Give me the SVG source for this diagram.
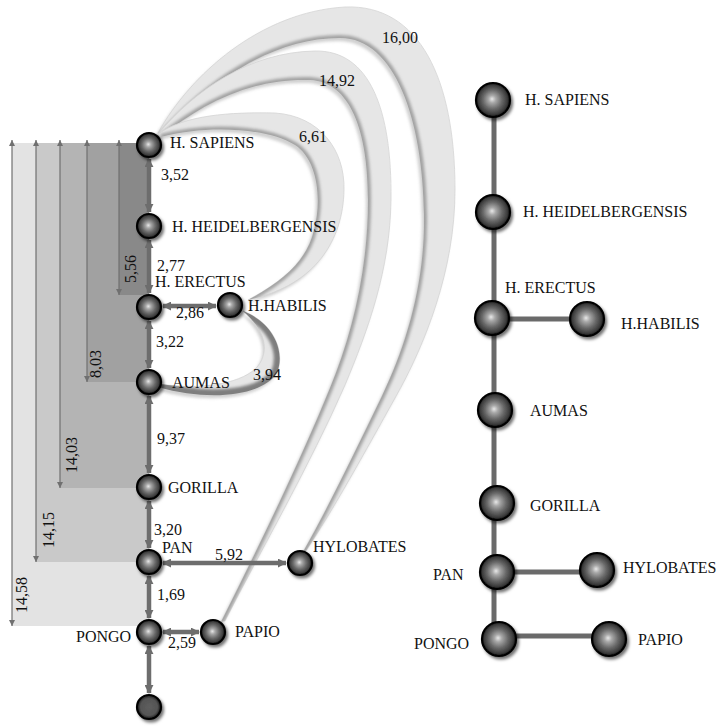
<svg xmlns="http://www.w3.org/2000/svg" width="718" height="727" viewBox="0 0 718 727">
  <style>
    text { font-family: "Liberation Serif", "Times New Roman", serif; font-size: 16px; fill: #111; }
    .band { stroke: none; }
    .dim { stroke: #707070; stroke-width: 1.2; fill: none; marker-start: url(#tick); marker-end: url(#tick); }
    .link { stroke: #6d6d6d; stroke-width: 4.5; fill: none; marker-start: url(#head); marker-end: url(#head); }
    .branch { stroke: #6a6a6a; stroke-width: 5; fill: none; }
    .ball { fill: url(#ballFill); stroke: #050505; stroke-width: 2.2; filter: url(#drop); }
    .ball-dark { fill: url(#ballDark); stroke: #050505; stroke-width: 2.2; filter: url(#drop); }
    .ribbon { fill: #e6e6e6; stroke: #d4d4d4; stroke-width: 0.8; filter: url(#soft); }
    .ribbon-shade { fill: #a0a0a0; opacity: 0.5; filter: url(#blur2); }
    .crease { fill: none; stroke: #a2a2a2; stroke-width: 6; filter: url(#blur2); }
    .crease-dark { fill: none; stroke: #7e7e7e; stroke-width: 12; filter: url(#blur2); }
  </style>
  <defs>
    <radialGradient id="ballFill" cx="0.5" cy="0.5" r="0.5" fx="0.47" fy="0.47">
      <stop offset="0" stop-color="#e8e8e8"/>
      <stop offset="0.22" stop-color="#a8a8a8"/>
      <stop offset="0.55" stop-color="#6a6a6a"/>
      <stop offset="0.85" stop-color="#3c3c3c"/>
      <stop offset="1" stop-color="#151515"/>
    </radialGradient>
    <radialGradient id="ballDark" cx="0.5" cy="0.5" r="0.5">
      <stop offset="0" stop-color="#5e5e5e"/>
      <stop offset="0.7" stop-color="#555"/>
      <stop offset="0.9" stop-color="#2e2e2e"/>
      <stop offset="1" stop-color="#0a0a0a"/>
    </radialGradient>
    <filter id="drop" x="-50%" y="-50%" width="200%" height="200%">
      <feDropShadow dx="2" dy="2.5" stdDeviation="1.8" flood-color="#000" flood-opacity="0.55"/>
    </filter>
    <filter id="soft" x="-10%" y="-10%" width="120%" height="120%">
      <feGaussianBlur stdDeviation="0.6"/>
    </filter>
    <filter id="blur2" x="-10%" y="-10%" width="120%" height="120%">
      <feGaussianBlur stdDeviation="1.6"/>
    </filter>
    <marker id="head" viewBox="0 0 10 10" refX="9" refY="5" markerWidth="2" markerHeight="2" orient="auto-start-reverse">
      <path d="M0,0 L10,5 L0,10 z" fill="#6d6d6d"/>
    </marker>
    <marker id="tick" viewBox="0 0 10 10" refX="10" refY="5" markerUnits="userSpaceOnUse" markerWidth="6" markerHeight="6" orient="auto-start-reverse">
      <path d="M0,0 L10,5 L0,10 z" fill="#707070"/>
    </marker>
    <!-- distance ribbons: outer edge out, inner edge back -->
    <path id="r1600" d="M158,133 C190,75 260,12 345,7 C420,4 455,80 455,190 C455,270 425,345 395,398 C365,452 333,510 306,551 L303,552 C328,508 355,452 382,396 C408,342 425,280 424,215 C423,120 395,38 340,38 C270,38 205,85 161,136 Z"/>
    <path id="r1492" d="M158,134 C195,90 250,52 315,51 C370,50 392,110 391,200 C390,270 368,330 345,385 C310,465 262,548 225,621 L221,622 C258,548 300,462 330,388 C352,335 368,270 368,200 C368,130 350,82 310,80 C250,78 200,105 161,137 Z"/>
    <path id="r661" d="M158,134 C185,115 230,112 275,113 C320,116 345,150 344,190 C343,240 316,284 252,299 L248,300 C285,280 307,260 314,230 C322,200 318,160 295,145 C265,127 205,125 161,137 Z"/>
    <path id="r394" d="M243,311 C272,322 286,350 277,373 C262,396 210,402 158,387 L160,384 C205,391 245,382 258,366 C270,350 265,330 243,311 Z"/>
    <clipPath id="c1600"><use href="#r1600"/></clipPath>
    <clipPath id="c1492"><use href="#r1492"/></clipPath>
    <clipPath id="c661"><use href="#r661"/></clipPath>
    <clipPath id="c394"><use href="#r394"/></clipPath>
  </defs>

  <rect width="718" height="727" fill="#fff"/>

  <!-- cumulative distance bands -->
  <g id="bands">
    <rect class="band" x="12" y="143" width="137" height="483" fill="#e3e3e3"/>
    <rect class="band" x="36" y="143" width="113" height="419" fill="#c9c9c9"/>
    <rect class="band" x="60" y="143" width="89" height="345" fill="#b4b4b4"/>
    <rect class="band" x="87" y="143" width="62" height="239" fill="#a1a1a1"/>
    <rect class="band" x="119" y="143" width="30" height="152" fill="#898989"/>
    <line class="dim" x1="12" y1="626" x2="12" y2="140"/>
    <line class="dim" x1="36" y1="562" x2="36" y2="140"/>
    <line class="dim" x1="60" y1="488" x2="60" y2="140"/>
    <line class="dim" x1="87" y1="382" x2="87" y2="140"/>
    <line class="dim" x1="119" y1="295" x2="119" y2="140"/>
    <text transform="translate(136,269) rotate(-90)" text-anchor="middle">5,56</text>
    <text transform="translate(101,364) rotate(-90)" text-anchor="middle">8,03</text>
    <text transform="translate(77,455) rotate(-90)" text-anchor="middle">14,03</text>
    <text transform="translate(54,530) rotate(-90)" text-anchor="middle">14,15</text>
    <text transform="translate(27,595) rotate(-90)" text-anchor="middle">14,58</text>
  </g>

  <!-- ribbons joining distant taxa -->
  <g id="ribbons">
    <use href="#r1600" class="ribbon-shade" transform="translate(-2,3)"/>
    <use href="#r1600" class="ribbon"/>
    <path class="crease" clip-path="url(#c1600)" d="M303,552 C328,508 355,452 382,396 C408,342 425,280 424,215 C423,120 395,38 340,38 C270,38 205,85 161,136"/>
    <use href="#r1492" class="ribbon-shade" transform="translate(-2,3)"/>
    <use href="#r1492" class="ribbon"/>
    <path class="crease" clip-path="url(#c1492)" d="M221,622 C258,548 300,462 330,388 C352,335 368,270 368,200 C368,130 350,82 310,80 C250,78 200,105 161,137"/>
    <use href="#r661" class="ribbon-shade" transform="translate(-2,3)"/>
    <use href="#r661" class="ribbon"/>
    <path class="crease" clip-path="url(#c661)" d="M248,300 C285,280 307,260 314,230 C322,200 318,160 295,145 C265,127 205,125 161,137"/>
    <use href="#r394" class="ribbon-shade" transform="translate(-2,3)"/>
    <use href="#r394" class="ribbon"/>
    <path class="crease-dark" clip-path="url(#c394)" d="M243,311 C272,322 286,350 277,373 C262,396 210,402 158,387"/>
  </g>

  <!-- connectors -->
  <g id="connectors">
    <line class="link" x1="149" y1="159" x2="149" y2="212"/>
    <line class="link" x1="149" y1="240" x2="149" y2="293"/>
    <line class="link" x1="149" y1="321" x2="149" y2="368"/>
    <line class="link" x1="149" y1="396" x2="149" y2="473"/>
    <line class="link" x1="149" y1="501" x2="149" y2="548"/>
    <line class="link" x1="149" y1="576" x2="149" y2="618"/>
    <line class="link" x1="149" y1="646" x2="149" y2="693"/>
    <line class="link" x1="163" y1="306" x2="216" y2="306"/>
    <line class="link" x1="163" y1="563" x2="286" y2="563"/>
    <line class="link" x1="163" y1="632" x2="199" y2="632"/>
    <line class="branch" x1="494" y1="100" x2="494" y2="638"/>
    <line class="branch" x1="494" y1="319" x2="587" y2="319"/>
    <line class="branch" x1="497" y1="572" x2="597" y2="572"/>
    <line class="branch" x1="499" y1="636" x2="609" y2="636"/>
  </g>

  <!-- distance labels -->
  <g id="distances">
    <text x="161" y="180">3,52</text>
    <text x="157" y="271">2,77</text>
    <text x="176" y="318">2,86</text>
    <text x="156" y="347">3,22</text>
    <text x="253" y="380">3,94</text>
    <text x="157" y="444">9,37</text>
    <text x="154" y="535">3,20</text>
    <text x="215" y="560">5,92</text>
    <text x="157" y="600">1,69</text>
    <text x="168" y="648">2,59</text>
    <text x="299" y="142">6,61</text>
    <text x="319" y="86">14,92</text>
    <text x="382" y="43">16,00</text>
  </g>

  <!-- left tree nodes -->
  <g id="l-sapiens"><circle class="ball" cx="149" cy="145" r="12"/><text x="170" y="148">H. SAPIENS</text></g>
  <g id="l-heidelbergensis"><circle class="ball" cx="149" cy="226" r="12"/><text x="172" y="232">H. HEIDELBERGENSIS</text></g>
  <g id="l-erectus"><circle class="ball" cx="149" cy="307" r="12"/><text x="155" y="287">H. ERECTUS</text></g>
  <g id="l-habilis"><circle class="ball" cx="230" cy="305" r="12"/><text x="248" y="311">H.HABILIS</text></g>
  <g id="l-aumas"><circle class="ball" cx="149" cy="382" r="12"/><text x="172" y="388">AUMAS</text></g>
  <g id="l-gorilla"><circle class="ball" cx="149" cy="487" r="12"/><text x="168" y="493">GORILLA</text></g>
  <g id="l-pan"><circle class="ball" cx="149" cy="562" r="12"/><text x="162" y="553">PAN</text></g>
  <g id="l-hylobates"><circle class="ball" cx="300" cy="563" r="12"/><text x="313" y="552">HYLOBATES</text></g>
  <g id="l-pongo"><circle class="ball" cx="149" cy="632" r="12"/><text x="76" y="642">PONGO</text></g>
  <g id="l-papio"><circle class="ball" cx="213" cy="632" r="12"/><text x="235" y="637">PAPIO</text></g>
  <g id="l-root"><circle class="ball-dark" cx="149" cy="707" r="12"/></g>

  <!-- right tree nodes -->
  <g id="r-sapiens"><circle class="ball" cx="493" cy="100" r="17"/><text x="525" y="105">H. SAPIENS</text></g>
  <g id="r-heidelbergensis"><circle class="ball" cx="493" cy="212" r="17"/><text x="523" y="217">H. HEIDELBERGENSIS</text></g>
  <g id="r-erectus"><circle class="ball" cx="492" cy="318" r="17"/><text x="505" y="293">H. ERECTUS</text></g>
  <g id="r-habilis"><circle class="ball" cx="587" cy="319" r="17"/><text x="621" y="329">H.HABILIS</text></g>
  <g id="r-aumas"><circle class="ball" cx="495" cy="410" r="17"/><text x="530" y="416">AUMAS</text></g>
  <g id="r-gorilla"><circle class="ball" cx="497" cy="503" r="17"/><text x="530" y="511">GORILLA</text></g>
  <g id="r-pan"><circle class="ball" cx="497" cy="572" r="17"/><text x="433" y="580">PAN</text></g>
  <g id="r-hylobates"><circle class="ball" cx="597" cy="570" r="17"/><text x="623" y="573">HYLOBATES</text></g>
  <g id="r-pongo"><circle class="ball" cx="499" cy="639" r="17"/><text x="414" y="649">PONGO</text></g>
  <g id="r-papio"><circle class="ball" cx="609" cy="639" r="17"/><text x="638" y="645">PAPIO</text></g>
</svg>
